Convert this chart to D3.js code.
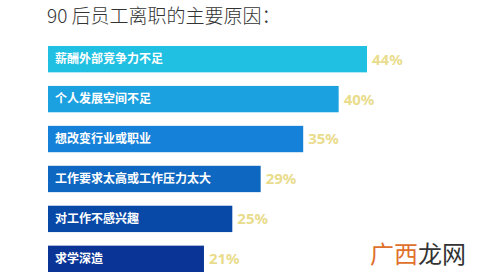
<!DOCTYPE html>
<html>
<head>
<meta charset="utf-8">
<script src="https://cdn.jsdelivr.net/npm/d3@7"></script>
<style>
  body { margin: 0; background: #fff; }
</style>
</head>
<body>
<div id="chart"></div>
<script>
// Reasons why post-90s employees quit
const reasons = ["薪酬外部竞争力不足", "个人发展空间不足", "想改变行业或职业", "工作要求太高或工作压力太大", "对工作不感兴趣", "求学深造"];
const percents = [44, 40, 35, 29, 25, 21];
const barColors = ["#20c0e2", "#1ba0e0", "#1681d8", "#0e67c0", "#0849a8", "#0a3496"];

const width = 499, height = 280;

const svg = d3.select("#chart")
    .append("svg")
    .attr("width", width)
    .attr("height", height);

// Title
svg.append("text")
    .attr("x", 47)
    .attr("y", 23)
    .attr("font-family", "Noto Sans CJK SC")
    .attr("font-weight", "300")
    .attr("font-size", "19px")
    .attr("fill", "#333")
    .text("90 后员工离职的主要原因：");

// Scales
const x = d3.scaleLinear()
    .domain([-1, 44])
    .range([48, 367]);

const y = d3.scaleBand()
    .domain(reasons)
    .range([46, 272])
    .paddingInner(0.34)
    .paddingOuter(0);

const rows = reasons.map((r, i) => ({ reason: r, pct: percents[i], color: barColors[i] }));

// Bars
svg.selectAll("rect.bar")
    .data(rows)
    .enter().append("rect")
    .attr("class", "bar")
    .attr("x", x(-1))
    .attr("y", d => y(d.reason))
    .attr("width", d => x(d.pct) - x(-1))
    .attr("height", y.bandwidth())
    .attr("fill", d => d.color);

// Labels inside bars
svg.selectAll("text.label")
    .data(rows)
    .enter().append("text")
    .attr("class", "label")
    .attr("x", x(-1) + 7)
    .attr("y", d => y(d.reason) + y.bandwidth() / 2)
    .attr("dy", "0.36em")
    .attr("font-family", "Noto Sans CJK SC")
    .attr("font-weight", "bold")
    .attr("font-size", "12px")
    .attr("fill", "#fff")
    .text(d => d.reason);

// Percent values
svg.selectAll("text.pct")
    .data(rows)
    .enter().append("text")
    .attr("class", "pct")
    .attr("x", d => x(d.pct) + 5)
    .attr("y", d => y(d.reason) + y.bandwidth() / 2)
    .attr("dy", "0.36em")
    .attr("font-family", "Noto Sans")
    .attr("font-weight", "bold")
    .attr("font-size", "15px")
    .attr("fill", "#e9dc8c")
    .text(d => d.pct + "%");

// Watermark
const wm = svg.append("text")
    .attr("x", 370)
    .attr("y", 263)
    .attr("font-family", "Noto Sans CJK SC")
    .attr("font-size", "24px");
wm.append("tspan").attr("fill", "#e0702c").text("广西");
wm.append("tspan").attr("fill", "#333").text("龙网");
</script>
</body>
</html>
